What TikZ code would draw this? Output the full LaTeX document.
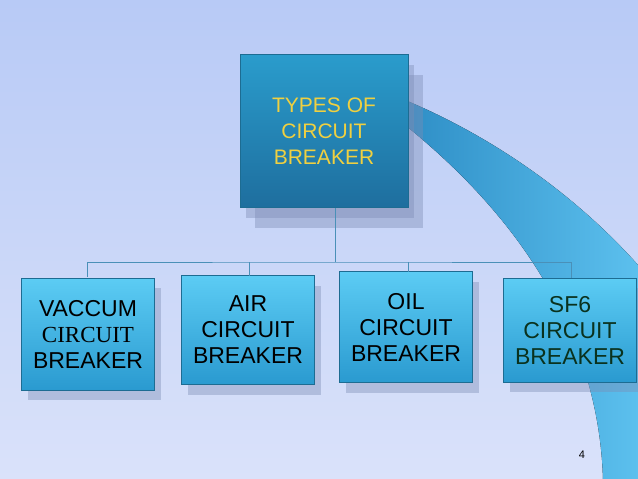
\documentclass[tikz,border=0pt]{standalone}
\usepackage{fontspec}
\setmainfont{Liberation Sans}
\newfontfamily\serifx{Liberation Serif}
\usetikzlibrary{shadows}
\definecolor{bgt}{HTML}{B8CAF6}
\definecolor{bgb}{HTML}{DAE2FA}
\definecolor{boxa}{HTML}{5CCCF4}
\definecolor{boxb}{HTML}{2A9AD0}
\definecolor{topa}{HTML}{2A9CCC}
\definecolor{topb}{HTML}{1E6E9E}
\definecolor{swa}{HTML}{2E8EC6}
\definecolor{swb}{HTML}{5CC0EE}
\definecolor{ttl}{HTML}{F0D040}
\definecolor{lnc}{HTML}{4A90B8}
\definecolor{shd}{HTML}{7C8CB4}
\tikzset{
  cbox/.style={draw=boxb!70!black, line width=0.8pt, top color=boxa, bottom color=boxb, minimum width=133pt, inner sep=1pt, align=center, font=\fontsize{23}{26}\selectfont, drop shadow={shadow xshift=6pt, shadow yshift=-10pt, fill=shd, opacity=0.4}},
  conn/.style={draw=lnc, line width=0.8pt}
}
\begin{document}
\begin{tikzpicture}[x=1pt,y=-1pt]
\fill[top color=bgt, bottom color=bgb] (0,0) rectangle (638,479);
\useasboundingbox (0,0) rectangle (638,479);
% swoosh
\fill[left color=swa, right color=swb] (405,100) .. controls (500,140) and (580,200) .. (638,265) -- (638,479) -- (603,479) .. controls (600,380) and (560,250) .. (405,125) -- cycle;
% top node
\node[cbox, top color=topa, bottom color=topb, minimum width=168pt, minimum height=153pt, text=ttl, font=\fontsize{21}{26}\selectfont, drop shadow={shadow xshift=15pt, shadow yshift=-20pt, fill=shd, opacity=0.4}] (top) at (324,131) {TYPES OF\\ CIRCUIT\\ BREAKER};
\node[cbox, minimum height=112pt] (v) at (88,334) {VACCUM\\{\serifx CIRCUIT}\\BREAKER};
\node[cbox, minimum height=109pt] (a) at (248,330) {AIR\\CIRCUIT\\BREAKER};
\node[cbox, minimum height=111pt] (o) at (406,327) {OIL\\CIRCUIT\\BREAKER};
\node[cbox, minimum height=104pt, text={rgb,255:red,10;green,50;blue,30}] (s) at (570,330) {SF6\\CIRCUIT\\BREAKER};
\coordinate (j) at (335,262);
\draw[conn] (335,208) -- (j);
\draw[conn] (87,277) |- (j) -| (571,278);
\draw[conn] (249,276) -- (249,262);
\draw[conn] (408,272) -- (408,262);
\node[font=\fontsize{11}{13}\selectfont] (pg) at (582,455) {4};
\end{tikzpicture}
\end{document}
